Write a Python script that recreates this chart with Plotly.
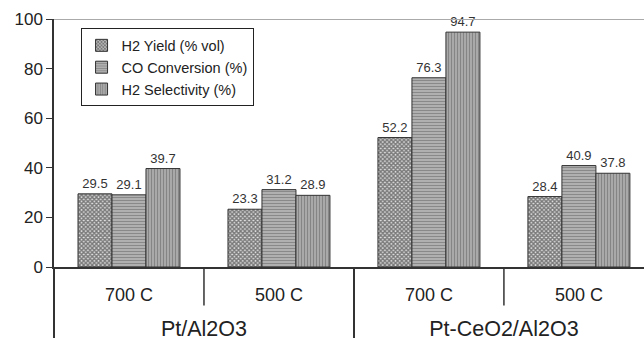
import plotly.graph_objects as go

catalysts = ["Pt/Al2O3", "Pt/Al2O3", "Pt-CeO2/Al2O3", "Pt-CeO2/Al2O3"]
temperatures = ["700 C", "500 C", "700 C", "500 C"]
h2_yield = [29.5, 23.3, 52.2, 28.4]
co_conversion = [29.1, 31.2, 76.3, 40.9]
h2_selectivity = [39.7, 28.9, 94.7, 37.8]
series_names = ["H2 Yield (% vol)", "CO Conversion (%)", "H2 Selectivity (%)"]
y_ticks = [0, 20, 40, 60, 80, 100]

FONT = "Liberation Sans, Arial, sans-serif"

styles = [
    dict(shape="x", fgcolor="#111111", bgcolor="#e0e0e0", size=3, solidity=0.7),
    dict(shape="-", fgcolor="#555555", bgcolor="#bdbdbd", size=3, solidity=0.5),
    dict(shape="|", fgcolor="#555555", bgcolor="#b5b5b5", size=3, solidity=0.5),
]

# outer level label: pushed one line lower, slightly larger type
outer_labels = [f"<span style='font-size:21.5px'><br>{c}</span>" for c in catalysts]

fig = go.Figure()
for name, vals, st in zip(series_names, [h2_yield, co_conversion, h2_selectivity], styles):
    fig.add_trace(go.Bar(
        name=name,
        x=[outer_labels, temperatures],
        y=vals,
        text=[f"{v:.1f}" for v in vals],
        textposition="outside",
        cliponaxis=False,
        textfont=dict(family=FONT, size=13, color="#333333"),
        marker=dict(color=st["bgcolor"], line=dict(color="#333333", width=1),
                    pattern=dict(shape=st["shape"], fgcolor=st["fgcolor"],
                                 bgcolor=st["bgcolor"], size=st["size"],
                                 solidity=st["solidity"], fillmode="overlay")),
    ))

fig.update_layout(
    width=644, height=338,
    margin=dict(l=54, r=0, t=19, b=71),
    paper_bgcolor="white", plot_bgcolor="white",
    barmode="group", bargap=0.32, bargroupgap=0,
    font=dict(family=FONT, color="#222222"),
    showlegend=True,
    legend=dict(x=0.045, y=0.962, xanchor="left", yanchor="top",
                bgcolor="white", bordercolor="#222222", borderwidth=1,
                font=dict(family=FONT, size=14.5, color="#222222"),
                traceorder="normal"),
)
fig.update_yaxes(
    range=[0, 100], tickvals=y_ticks, showgrid=False, zeroline=False,
    showline=True, linecolor="#333333", linewidth=1.5,
    ticks="outside", ticklen=6, tickcolor="#333333", automargin=False,
    tickfont=dict(family=FONT, size=17, color="#222222"),
)
fig.update_xaxes(
    type="multicategory",
    range=[-0.5, 3.434], automargin=False,
    showline=True, linecolor="#333333", linewidth=1.5,
    ticks="", ticklabelstandoff=11,
    showdividers=True, dividercolor="#333333", dividerwidth=1.5,
    tickfont=dict(family=FONT, size=18, color="#222222"),
)
# top border line
fig.add_shape(type="line", xref="paper", yref="y", x0=0, x1=1, y0=100, y1=100,
              line=dict(color="#aaaaaa", width=2))
# short separators between temperatures inside each catalyst group
for xb in [0.5, 2.5]:
    fig.add_shape(type="line", xref="x", yref="paper", x0=xb, x1=xb, y0=0, y1=-0.155,
                  line=dict(color="#333333", width=1.5))

fig.write_html("out.html")
